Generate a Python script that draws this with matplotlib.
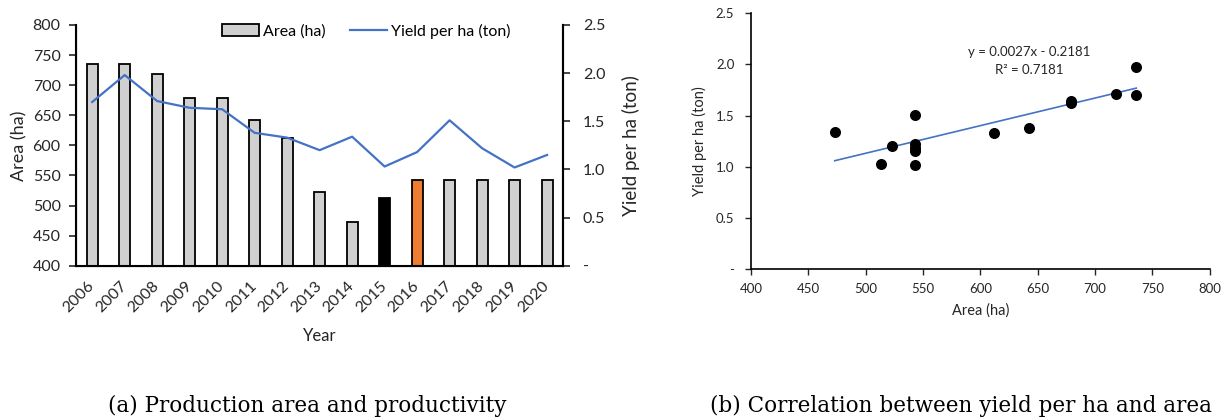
import matplotlib.pyplot as plt
from matplotlib.ticker import FuncFormatter, MultipleLocator
from matplotlib.patches import Patch
from matplotlib.lines import Line2D

years = ['2006', '2007', '2008', '2009', '2010', '2011', '2012', '2013',
         '2014', '2015', '2016', '2017', '2018', '2019', '2020']
area_ha = [736, 736, 718, 679, 679, 642, 612, 523, 473, 513, 543, 543, 543, 543, 543]
yield_ton = [1.70, 1.98, 1.71, 1.64, 1.625, 1.38, 1.33, 1.20, 1.34, 1.03,
             1.18, 1.51, 1.22, 1.02, 1.15]
bar_colors = ['#d0d0d0'] * 9 + ['#000000', '#ed7d31'] + ['#d0d0d0'] * 4

fit_slope = 0.0027
fit_icpt = -0.2181

plt.rcParams['font.family'] = ['Lato', 'DejaVu Sans']
txt = '#262626'
blue = '#4472c4'
cap_font = ['DejaVu Serif', 'Liberation Serif']


def dash_fmt(v, pos):
    if abs(v) < 1e-9:
        return '-'
    return '{0:.1f}'.format(v)


fig = plt.figure(figsize=(12.31, 4.18), dpi=100)

# (a) bars + yield line
ax = fig.add_axes([0.0617, 0.3644, 0.3959, 0.5758])
x = range(len(years))
ax.bar(x, [a - 400 for a in area_ha], bottom=400, width=0.34, color=bar_colors,
       edgecolor='black', linewidth=1.3, zorder=2)
ax.set_ylim(400, 800)
ax.set_xlim(-0.5, len(years) - 0.5)
ax.yaxis.set_major_locator(MultipleLocator(50))
ax.set_xticks(list(x))
ax.set_xticklabels(years, rotation=45, ha='right', va='center', rotation_mode='anchor')
ax.tick_params(axis='x', length=0, labelsize=11.5, colors=txt, pad=13)
ax.tick_params(axis='y', length=5, width=1.2, labelsize=11.5, colors=txt, pad=6)
ax.spines['top'].set_visible(False)
for s in ['left', 'bottom', 'right']:
    ax.spines[s].set_linewidth(1.5)
ax.set_ylabel('Area (ha)', fontsize=13, color=txt, labelpad=4)
ax.set_xlabel('Year', fontsize=12, color=txt, labelpad=9)

ax2 = ax.twinx()
ax2.plot(list(x), yield_ton, color=blue, linewidth=1.6, zorder=3)
ax2.set_ylim(0, 2.5)
ax2.yaxis.set_major_locator(MultipleLocator(0.5))
ax2.yaxis.set_major_formatter(FuncFormatter(dash_fmt))
ax2.tick_params(axis='y', length=5, width=1.2, labelsize=11.5, colors=txt, pad=9)
ax2.spines['top'].set_visible(False)
ax2.spines['right'].set_linewidth(1.5)
ax2.set_ylabel('Yield per ha (ton)', fontsize=13.5, color=txt, labelpad=12)

handles = [Patch(facecolor='#d0d0d0', edgecolor='black', linewidth=1.3),
           Line2D([0], [0], color=blue, linewidth=1.6)]
ax2.legend(handles, ['Area (ha)', 'Yield per ha (ton)'], loc='center',
           bbox_to_anchor=(0.596, 0.975), ncol=2, frameon=False, fontsize=11.5,
           handlelength=2.3, columnspacing=1.5, handletextpad=0.3)

# (b) scatter + trend
bx = fig.add_axes([0.6101, 0.3565, 0.3726, 0.6115])
bx.scatter(area_ha, yield_ton, s=48, color='black', zorder=3)
xmin, xmax = min(area_ha), max(area_ha)
bx.plot([xmin, xmax], [fit_slope * xmin + fit_icpt, fit_slope * xmax + fit_icpt],
        color=blue, linewidth=1.2, zorder=2)
bx.set_xlim(400, 800)
bx.set_ylim(0, 2.5)
bx.xaxis.set_major_locator(MultipleLocator(50))
bx.yaxis.set_major_locator(MultipleLocator(0.5))
bx.yaxis.set_major_formatter(FuncFormatter(dash_fmt))
bx.tick_params(length=4, width=1.0, labelsize=9.5, colors=txt)
bx.tick_params(axis='y', pad=8)
bx.tick_params(axis='x', pad=6)
for s in ['top', 'right']:
    bx.spines[s].set_visible(False)
for s in ['left', 'bottom']:
    bx.spines[s].set_linewidth(1.2)
bx.set_xlabel('Area (ha)', fontsize=10.5, color=txt, labelpad=6)
bx.set_ylabel('Yield per ha (ton)', fontsize=10.5, color=txt, labelpad=6)
bx.text(643, 2.12, 'y = 0.0027x - 0.2181', ha='center', va='center', fontsize=9.5, color=txt)
bx.text(643, 1.946, 'R² = 0.7181', ha='center', va='center', fontsize=9.5, color=txt)

fig.text(0.2498, 0.028, '(a) Production area and productivity', ha='center', va='center',
         fontsize=15.5, family=cap_font, color='black')
fig.text(0.7803, 0.028, '(b) Correlation between yield per ha and area', ha='center', va='center',
         fontsize=15.5, family=cap_font, color='black')

fig.savefig('out.png', dpi=100, facecolor='white')
